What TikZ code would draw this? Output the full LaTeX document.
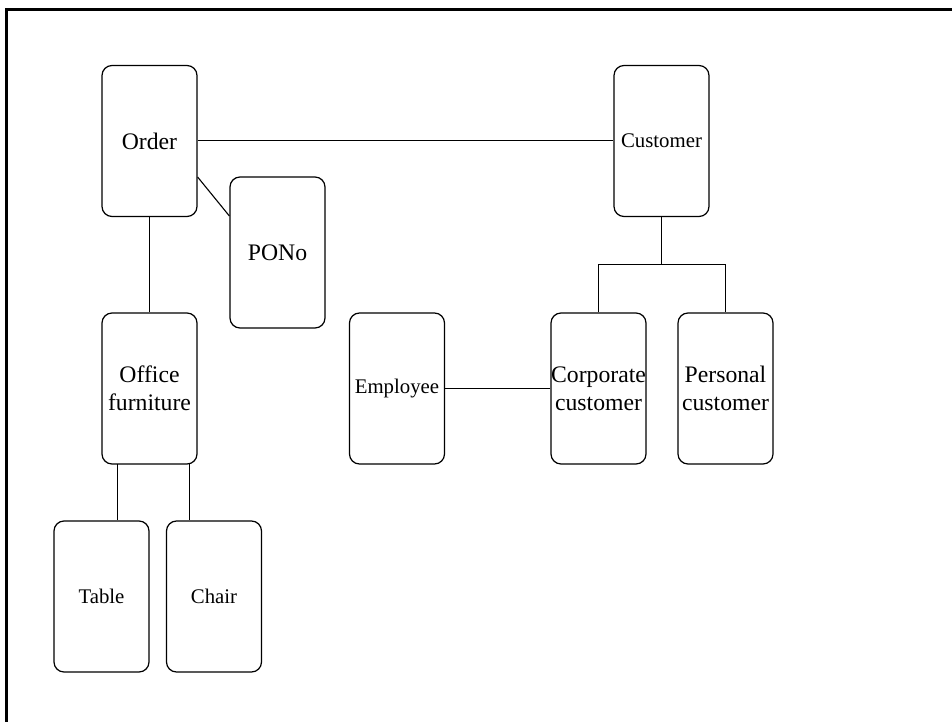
\documentclass[tikz,border=0pt]{standalone}
\usepackage{fontspec}
\setmainfont{Liberation Serif}
\begin{document}
\begin{tikzpicture}[x=1pt,y=-1pt,
  ent/.style={draw, line width=1.2pt, rounded corners=10pt, minimum width=95pt, minimum height=151pt, inner sep=0pt, align=center},
  big/.style={font=\fontsize{23.7}{28}\selectfont},
  small/.style={font=\fontsize{20.8}{25}\selectfont},
  conn/.style={line width=1.1pt}]
\useasboundingbox (0,0) rectangle (952,722);
\draw[line width=3pt] (952,10) -- (6.5,10) -- (6.5,722);
\node[ent,big] (order) at (149.5,141) {Order};
\node[ent,big] (pono) at (277.5,252.5) {PONo};
\node[ent,small] (customer) at (661.5,141) {Customer};
\node[ent,big] (office) at (149.5,388.5) {Office\\furniture};
\node[ent,small] (emp) at (397,388.5) {Employee};
\node[ent,big] (corp) at (598.5,388.5) {Corporate\\customer};
\node[ent,big] (pers) at (725.5,388.5) {Personal\\customer};
\node[ent,small] (table) at (101.5,596.5) {Table};
\node[ent,small] (chair) at (214,596.5) {Chair};
\draw[conn] ([yshift=0.5pt]order.east) -- ([yshift=0.5pt]customer.west);
\draw[conn] ([yshift=-36pt]order.east) -- ([yshift=36.5pt]pono.west);
\draw[conn] (order.south) -- (office.north);
\coordinate (cbus) at (661.5,264.5);
\draw[conn] (customer.south) -- (cbus);
\draw[conn] (corp.north) |- (cbus) -| (pers.north);
\draw[conn] (emp.east) -- (corp.west);
\coordinate (t1) at (117.5,464);
\coordinate (c1) at (189.5,464);
\draw[conn] (t1) -- (t1 |- table.north);
\draw[conn] (c1) -- (c1 |- chair.north);
\end{tikzpicture}
\end{document}
